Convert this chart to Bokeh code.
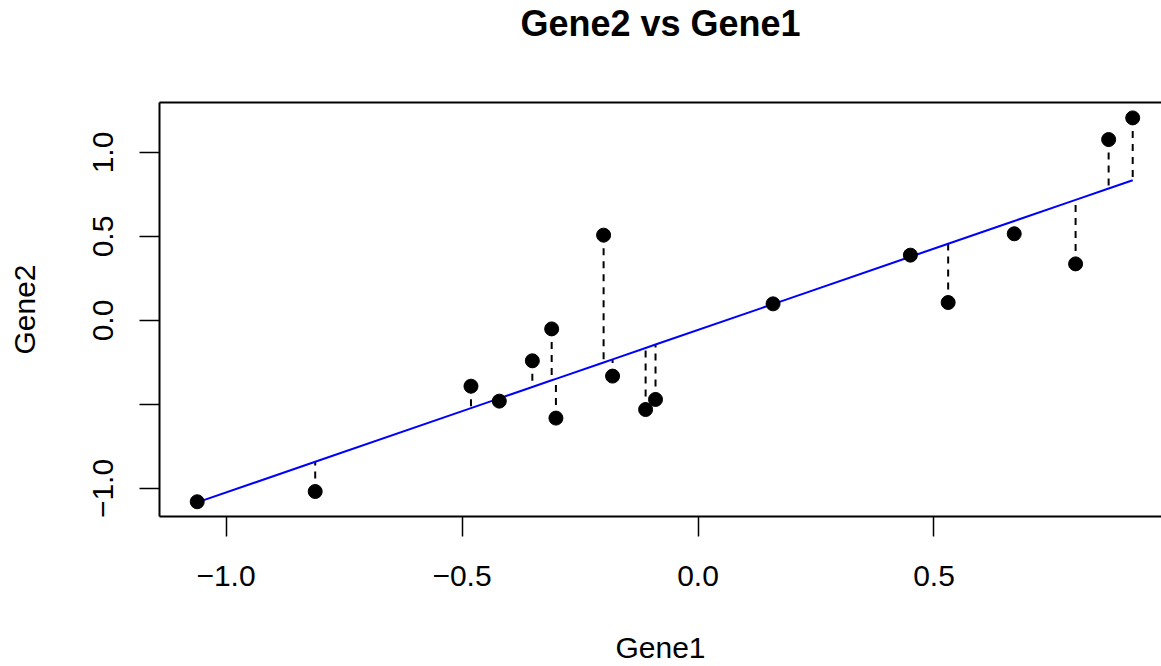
import numpy as np
from bokeh.plotting import figure
from bokeh.models import Range1d, FixedTicker, LinearAxis
from bokeh.embed import file_html
from bokeh.resources import INLINE

# Data
gene1 = [-1.061, -0.811, -0.481, -0.421, -0.351, -0.310, -0.301, -0.200, -0.181,
         -0.111, -0.090, 0.159, 0.450, 0.530, 0.670, 0.800, 0.870, 0.921]
gene2 = [-1.079, -1.018, -0.391, -0.480, -0.240, -0.050, -0.581, 0.508, -0.331,
         -0.530, -0.470, 0.099, 0.389, 0.107, 0.516, 0.337, 1.077, 1.206]

x_ticks = [-1.0, -0.5, 0.0, 0.5]
x_tick_labels = ["\u22121.0", "\u22120.5", "0.0", "0.5"]
y_ticks = [-1.0, -0.5, 0.0, 0.5, 1.0]
y_tick_labels = ["\u22121.0", "", "0.0", "0.5", "1.0"]

title_text = "Gene2 vs Gene1"
x_label = "Gene1"
y_label = "Gene2"

# Least-squares fit (lm)
x = np.array(gene1)
y = np.array(gene2)
slope, intercept = np.polyfit(x, y, 1)
fitted = intercept + slope * x
order = np.argsort(x)

FONT = "Liberation Sans"

p = figure(width=1161, height=666,
           x_range=Range1d(-1.1409, 0.9820), y_range=Range1d(-1.1667, 1.2976),
           output_backend="svg", toolbar_location=None,
           min_border_left=159, min_border_right=0, min_border_top=102,
           min_border_bottom=150, title=title_text)
p.outline_line_color = None
p.grid.visible = False
p.background_fill_color = "white"
p.border_fill_color = "white"

p.title.align = "center"
p.title.text_font = FONT
p.title.text_font_size = "36px"
p.title.text_font_style = "bold"
p.title.text_color = "black"
p.title.standoff = 0

# x axis
xa = p.xaxis[0]
xa.ticker = FixedTicker(ticks=x_ticks)
xa.major_label_overrides = {t: l for t, l in zip(x_ticks, x_tick_labels)}
xa.axis_label = x_label
# y axis
ya = p.yaxis[0]
ya.ticker = FixedTicker(ticks=y_ticks)
ya.major_label_overrides = {t: l for t, l in zip(y_ticks, y_tick_labels)}
ya.axis_label = y_label
ya.major_label_orientation = "vertical"

for ax in (xa, ya):
    ax.axis_line_width = 2
    ax.axis_line_color = "black"
    ax.major_tick_line_width = 1.5
    ax.major_tick_line_color = "black"
    ax.major_tick_in = 0
    ax.major_tick_out = 20
    ax.minor_tick_line_color = None
    ax.major_label_text_font = FONT
    ax.major_label_text_font_size = "30px"
    ax.major_label_text_color = "black"
    ax.axis_label_text_font = FONT
    ax.axis_label_text_font_size = "30px"
    ax.axis_label_text_font_style = "normal"
    ax.axis_label_text_color = "black"

xa.major_label_standoff = 29
xa.axis_label_standoff = 42
ya.major_label_standoff = 26
ya.axis_label_standoff = 50

# top box line (blank axis that also spaces the title away from the box)
top = LinearAxis(ticker=FixedTicker(ticks=[]), axis_line_width=2, axis_line_color="black",
                 major_tick_line_color=None, minor_tick_line_color=None,
                 major_label_text_font_size="0px", major_label_standoff=0,
                 axis_label=" ", axis_label_text_font=FONT,
                 axis_label_text_font_size="30px", axis_label_standoff=23)
p.add_layout(top, "above")

# residual segments
p.segment(x0=x, y0=y, x1=x, y1=fitted, line_color="black", line_width=2,
          line_dash="7 6")
# regression line
p.line(x[order], fitted[order], line_color="blue", line_width=2)
# points
p.scatter(x, y, size=14, color="black", marker="circle")

open("out.html", "w").write(file_html(p, INLINE))
